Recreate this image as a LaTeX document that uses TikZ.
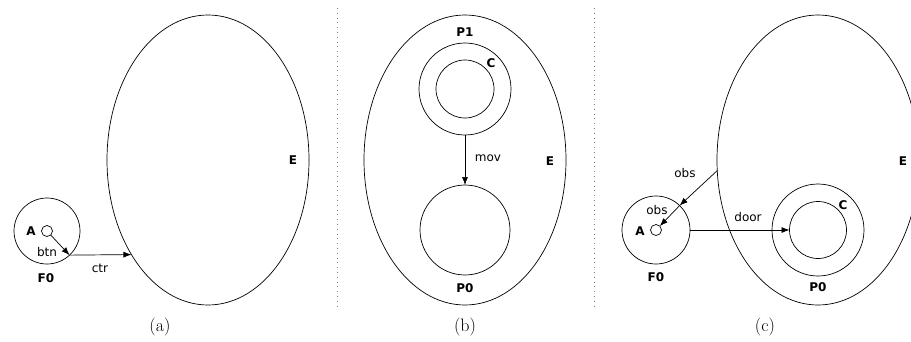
\documentclass[tikz,border=0pt]{standalone}
\usepackage{fontspec}
\newfontfamily\lblfont{DejaVu Sans}
\usetikzlibrary{shapes.geometric,arrows.meta}
\begin{document}
\begin{tikzpicture}[x=1pt,y=-1pt,
  every node/.style={inner sep=0pt,outer sep=0pt},
  env/.style={draw,ellipse,minimum width=202pt,minimum height=290pt,line width=0.7pt},
  ring/.style={draw,circle,minimum size=#1,line width=0.7pt},
  lbl/.style={font=\lblfont\fontsize{12}{14}\selectfont},
  blbl/.style={font=\lblfont\bfseries\fontsize{12}{14}\selectfont},
  subcap/.style={font=\fontsize{18}{20}\selectfont},
  arr/.style={-{Latex[length=8pt,width=6pt]},line width=0.7pt},
  sep/.style={gray,line width=0.9pt,dash pattern=on 1pt off 3.8pt}]
\clip (0,0) rectangle (911,341);
\useasboundingbox (0,0) rectangle (911,341);
% separators
\coordinate (s1t) at (337,8); \coordinate (s1b) at (337,308);
\coordinate (s2t) at (594,8); \coordinate (s2b) at (594,308);
\draw[sep] (s1t) -- (s1b);
\draw[sep] (s2t) -- (s2b);
% panel (a)
\node[env] (Ea) at (208,160) {};
\node[blbl] (Ela) at (293,160) {E};
\node[ring=66pt] (F0a) at (47,231) {};
\node[ring=11pt] (Aa) at (47,231) {};
\node[blbl] (Ala) at (31,231) {A};
\node[lbl] (btn) at (47,252) {btn};
\node[blbl] (F0la) at (46,278) {F0};
\draw[arr] (Aa) -- (F0a.-47);
\draw[arr] (F0a.-47) -- (Ea.231.2);
\node[lbl] (ctr) at (100,268) {ctr};
\node[subcap] (capa) at (160,327) {(a)};
% panel (b)
\node[env] (Eb) at (465,160) {};
\node[blbl] (Elb) at (550,161) {E};
\node[ring=92pt] (P1o) at (465,89) {};
\node[ring=58pt] (P1i) at (465,89) {};
\node[blbl] (Cb) at (491,63) {C};
\node[blbl] (P1l) at (465,32) {P1};
\node[ring=90pt] (P0b) at (465,230) {};
\node[blbl] (P0lb) at (465,288) {P0};
\draw[arr] (P1o.south) -- (P0b.north);
\node[lbl] (mov) at (488,158) {mov};
\node[subcap] (capb) at (465,327) {(b)};
% panel (c)
\node[env] (Ec) at (818,160) {};
\node[blbl] (Elc) at (903,161) {E};
\node[ring=68pt] (F0c) at (656,230) {};
\node[ring=11pt] (Ac) at (656,230) {};
\node[blbl] (Alc) at (640,231) {A};
\node[lbl] (obsi) at (657,210) {obs};
\node[lbl] (obso) at (685,173) {obs};
\node[blbl] (F0lc) at (656,277) {F0};
\draw[arr] (Ec.186) -- (F0c.46);
\draw[arr] (F0c.46) -- (Ac);
\node[ring=92pt] (P0o) at (818,230) {};
\node[ring=57pt] (P0i) at (818,230) {};
\node[blbl] (Cc) at (843,205) {C};
\node[blbl] (P0lc) at (818,287) {P0};
\draw[arr] (F0c.east) -- (P0i.west);
\node[lbl] (door) at (748,217) {door};
\node[subcap] (capc) at (765,327) {(c)};
\end{tikzpicture}
\end{document}
